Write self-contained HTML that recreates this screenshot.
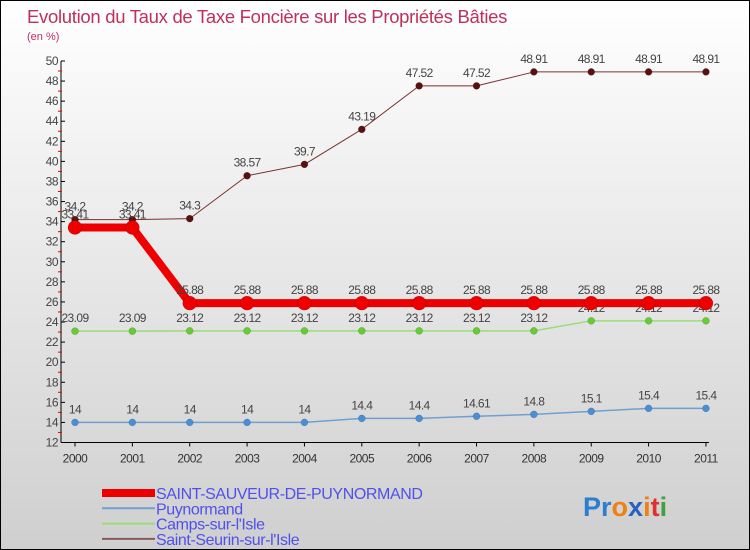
<!DOCTYPE html>
<html><head><meta charset="utf-8"><style>
body{margin:0}
#c{width:748px;height:548px;border:1px solid #000;position:relative;background:linear-gradient(#ffffff,#cfcfcf);font-family:"Liberation Sans",sans-serif;overflow:hidden}
</style></head><body>
<div id="c">
<svg id="s" width="748" height="548" style="position:absolute;left:0;top:0">
<text x="26" y="22" font-size="18.5" fill="#c0305a" letter-spacing="-0.3">Evolution du Taux de Taxe Foncière sur les Propriétés Bâties</text>
<text x="26" y="39" font-size="11" fill="#c0305a">(en %)</text>
</svg>
</div>
<script>
const years=[2000,2001,2002,2003,2004,2005,2006,2007,2008,2009,2010,2011];
const stSauveur=[33.41,33.41,25.88,25.88,25.88,25.88,25.88,25.88,25.88,25.88,25.88,25.88];
const puynormand=[14,14,14,14,14,14.4,14.4,14.61,14.8,15.1,15.4,15.4];
const camps=[23.09,23.09,23.12,23.12,23.12,23.12,23.12,23.12,23.12,24.12,24.12,24.12];
const stSeurin=[34.2,34.2,34.3,38.57,39.7,43.19,47.52,47.52,48.91,48.91,48.91,48.91];
const yTicks=[12,14,16,18,20,22,24,26,28,30,32,34,36,38,40,42,44,46,48,50];
const legendNames=["SAINT-SAUVEUR-DE-PUYNORMAND","Puynormand","Camps-sur-l'Isle","Saint-Seurin-sur-l'Isle"];

const s=document.getElementById('s');const NS='http://www.w3.org/2000/svg';
const X=i=>74+i*57.36, Y=v=>441.5-(v-12)*10.04;
function mk(t,a,p){const e=document.createElementNS(NS,t);for(const k in a)e.setAttribute(k,a[k]);(p||s).appendChild(e);return e;}
let ax=mk('line',{x1:60,y1:Y(50),x2:60,y2:Y(12),stroke:'#000','stroke-width':1});


let bx=mk('line',{x1:60,y1:Y(12),x2:X(11)+3,y2:Y(12),stroke:'#000','stroke-width':1});


yTicks.forEach(v=>{
 mk('line',{x1:60,y1:Y(v),x2:64,y2:Y(v),stroke:'#000'});
 if(v<50) mk('line',{x1:57,y1:Y(v+1),x2:61,y2:Y(v+1),stroke:'#e00'});
 const t=mk('text',{x:57,y:Y(v)+4,'font-size':12,fill:'#444','text-anchor':'end','letter-spacing':'-0.5'});t.textContent=v;
 
 
});
years.forEach((y,i)=>{
 mk('line',{x1:X(i),y1:Y(12),x2:X(i),y2:Y(12)+4,stroke:'#000'});
 const t=mk('text',{x:X(i),y:Y(12)+20,'font-size':12,fill:'#333','text-anchor':'middle','letter-spacing':'-0.5'});t.textContent=y;
 
 
});
function series(d,col,w,r,dot,name){
 const g=mk('g',{});
 
 
 mk('polyline',{points:d.map((v,i)=>X(i)+','+Y(v)).join(' '),fill:'none',stroke:col,'stroke-width':w,'stroke-linejoin':'round'},g);
 d.forEach((v,i)=>{
  const c=mk('circle',{cx:X(i),cy:Y(v),r:r,fill:dot,stroke:'rgba(0,0,0,0.25)','stroke-width':0.5},g);
  
  
  const t=mk('text',{x:X(i),y:Y(v)-9,'font-size':12,fill:'#444','text-anchor':'middle','letter-spacing':'-0.6'},g);t.textContent=v;
  
  
 });
}
series(puynormand,'#6fa0d0',1.5,3.5,'#4a8fd6','series-puynormand');
series(camps,'#99dd77',1.5,3.5,'#66cc33','series-camps-sur-l-isle');
series(stSeurin,'#7a3030',1,3.5,'#5a1010','series-saint-seurin-sur-l-isle');
series(stSauveur,'#ee0000',8,7,'#ee0000','series-saint-sauveur-de-puynormand');
const lc=['#ee0000','#6fa0d0','#99dd77','#8a5a5a'],lw=[8,2,2,2];
legendNames.forEach((n,i)=>{
 const y=492+i*15.3;
 const l=mk('line',{x1:101,y1:y,x2:154,y2:y,stroke:lc[i],'stroke-width':lw[i]});
 
 
 const t=mk('text',{x:155,y:y+6,'font-size':16,fill:'#5050ee','letter-spacing':'-0.4'});t.textContent=n;
 
 
});
const logo=mk('text',{x:582,y:515,'font-size':27,'font-weight':'bold','font-family':'Liberation Sans, sans-serif'});


[['Pr','#2a7fd0'],['o','#f08010'],['x','#2a60c0'],['i','#f08010'],['t','#e03030'],['i','#40a040']].forEach(p=>{const ts=mk('tspan',{fill:p[1]},logo);ts.textContent=p[0];});
</script>
</body></html>
